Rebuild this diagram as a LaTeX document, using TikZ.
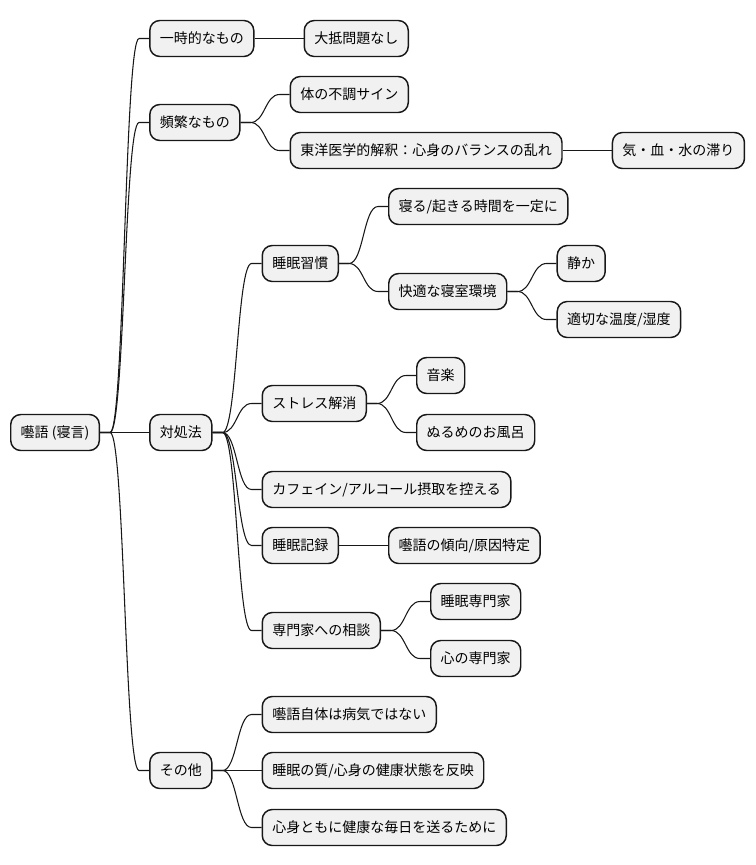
\documentclass[tikz,border=0pt]{standalone}
\usepackage{fontspec}
\setmainfont{Noto Sans CJK JP}
\usetikzlibrary{calc}
\definecolor{boxfill}{HTML}{F1F1F1}
\definecolor{boxline}{HTML}{181818}
\tikzset{
  mm/.style={draw=boxline, fill=boxfill, line width=1.1pt, rounded corners=7.5pt,
    minimum height=27pt, inner xsep=7.5pt, inner ysep=0pt, text height=9pt, text depth=1.5pt,
    font=\fontsize{10.5pt}{12pt}\selectfont, anchor=west},
  conn/.style={draw=boxline, line width=0.8pt},
}
\newcommand\mmchild[4]{%
  \path (#2.east) ++(49,0) coordinate (#1-anc);
  \node[mm] (#1) at (#1-anc |- 0,#3) {#4};
  \draw[conn] let \p1=(#2.east), \p2=(#1.west) in (\p1) -- ({\x1+7.5pt},\y1)
    .. controls ({(\x1+\x2)/2},\y1) and ({(\x1+\x2)/2},\y2) .. ({\x2-7.5pt},\y2) -- (\p2);
}
\begin{document}
\begin{tikzpicture}[x=0.75pt,y=-0.75pt]
\useasboundingbox (0,0) rectangle (756,865);
\node[mm] (root) at (10,432.5) {囈語 (寝言)};
\mmchild{a}{root}{38.5}{一時的なもの}
\mmchild{a1}{a}{38.5}{大抵問題なし}
\mmchild{b}{root}{122.5}{頻繁なもの}
\mmchild{b1}{b}{94.5}{体の不調サイン}
\mmchild{b2}{b}{150.5}{東洋医学的解釈：心身のバランスの乱れ}
\mmchild{b21}{b2}{150.5}{気・血・水の滞り}
\mmchild{c}{root}{432.5}{対処法}
\mmchild{c1}{c}{263.5}{睡眠習慣}
\mmchild{c11}{c1}{206.5}{寝る/起きる時間を一定に}
\mmchild{c12}{c1}{291.5}{快適な寝室環境}
\mmchild{c121}{c12}{263.5}{静か}
\mmchild{c122}{c12}{319.5}{適切な温度/湿度}
\mmchild{c2}{c}{403.5}{ストレス解消}
\mmchild{c21}{c2}{375.5}{音楽}
\mmchild{c22}{c2}{432.5}{ぬるめのお風呂}
\mmchild{c3}{c}{489.5}{カフェイン/アルコール摂取を控える}
\mmchild{c4}{c}{545.5}{睡眠記録}
\mmchild{c41}{c4}{545.5}{囈語の傾向/原因特定}
\mmchild{c5}{c}{630.5}{専門家への相談}
\mmchild{c51}{c5}{601.5}{睡眠専門家}
\mmchild{c52}{c5}{658.5}{心の専門家}
\mmchild{d}{root}{770.5}{その他}
\mmchild{d1}{d}{714.5}{囈語自体は病気ではない}
\mmchild{d2}{d}{770.5}{睡眠の質/心身の健康状態を反映}
\mmchild{d3}{d}{827.5}{心身ともに健康な毎日を送るために}
\end{tikzpicture}
\end{document}
